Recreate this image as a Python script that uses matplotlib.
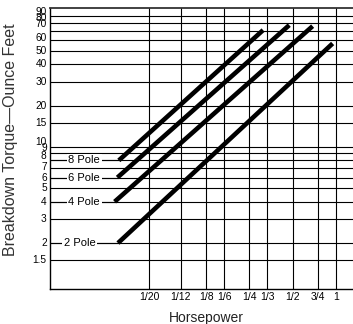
import matplotlib
matplotlib.use('Agg')
import matplotlib.pyplot as plt

plt.rcParams['font.family'] = ['Liberation Sans', 'DejaVu Sans']

# axis ticks
hp_ticks = [1/20, 1/12, 1/8, 1/6, 1/4, 1/3, 1/2, 3/4, 1]
hp_labels = ['1/20', '1/12', '1/8', '1/6', '1/4', '1/3', '1/2', '3/4', '1']
torque_ticks = [1.5, 2, 3, 4, 5, 6, 7, 8, 9, 10, 15, 20, 30, 40, 50, 60, 70, 80, 90]
torque_labels = ['1.5', '2', '3', '4', '5', '6', '7', '8', '9', '10',
                 '15', '20', '30', '40', '50', '60', '70', '80', '90']

# breakdown torque lines, one per motor
poles = ['2 Pole', '4 Pole', '6 Pole', '8 Pole']
hp_start = [0.0304, 0.0288, 0.0301, 0.0308]
hp_end = [0.948, 0.688, 0.473, 0.311]
torque_start = [2, 4, 6, 8]
torque_end = [56.9, 76.1, 77.4, 71.2]

fig = plt.figure(figsize=(3.53, 3.24), dpi=100)
ax = fig.add_axes([0.143, 0.108, 0.857, 0.867])
ax.set_xscale('log')
ax.set_yscale('log')
ax.set_xlim(0.0103, 1.314)
ax.set_ylim(0.925, 103)

ax.set_xticks(hp_ticks, hp_labels)
ax.set_yticks(torque_ticks, [''] * len(torque_ticks))
ax.minorticks_off()
ax.tick_params(length=0, labelsize=7.5, pad=2.5)
ax.grid(True, color='black', lw=0.8)
ax.set_axisbelow(True)

ax.spines['right'].set_visible(False)
ax.spines['top'].set_linewidth(1.3)
ax.spines['top'].set_color('#333333')
ax.spines['left'].set_linewidth(1.0)
ax.spines['bottom'].set_linewidth(1.0)

# crowded torque labels get nudged upward (pixels)
nudge = {7: 1.6, 8: 4.3, 9: 5, 10: 5.3, 60: 2.2, 70: 7, 80: 5, 90: 4.3}
for v, lbl in zip(torque_ticks, torque_labels):
    dy = nudge.get(v, 0) * 0.72
    ax.annotate(lbl, xy=(0, v), xycoords=ax.get_yaxis_transform(),
                xytext=(-2.7, dy), textcoords='offset points',
                ha='right', va='center', fontsize=7.3)

for name, x0, x1, y0, y1 in zip(poles, hp_start, hp_end, torque_start, torque_end):
    ax.plot([x0, x1], [y0, y1], color='black', lw=3.3,
            solid_capstyle='butt', zorder=3)
    # leader from the axis to the start of the line
    ax.plot([ax.get_xlim()[0], x0], [y0, y0], color='black', lw=0.8, zorder=3)
    tx = 0.096 if name == '2 Pole' else 0.111
    ax.text(tx, y0, name, transform=ax.get_yaxis_transform(),
            ha='center', va='center', fontsize=8, zorder=4,
            bbox=dict(facecolor='white', edgecolor='none',
                      boxstyle='square,pad=0.15'))

fig.text(0.584, 0.0185, 'Horsepower', ha='center', va='center',
         fontsize=10, color='#222222')
fig.text(0.031, 0.568, 'Breakdown Torque\u2014Ounce Feet', rotation=90,
         ha='center', va='center', fontsize=11.5, color='#333333')

fig.savefig('out.png', dpi=100)
